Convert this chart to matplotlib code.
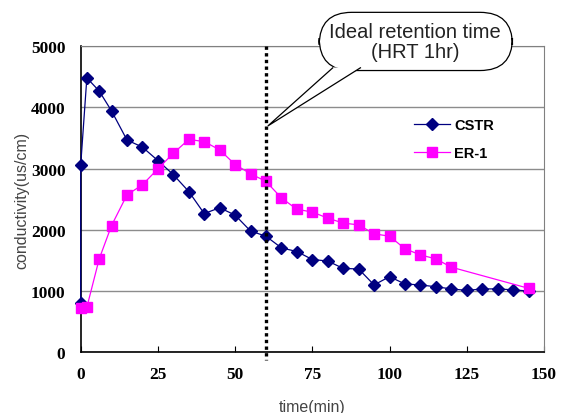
import matplotlib.pyplot as plt
from matplotlib.patches import FancyBboxPatch, Polygon

# conductivity readings over time
cstr_time = [0, 0, 2, 6, 10, 15, 20, 25, 30, 35, 40, 45, 50, 55, 60, 65, 70, 75,
             80, 85, 90, 95, 100, 105, 110, 115, 120, 125, 130, 135, 140, 145]
cstr_cond = [800, 3050, 4480, 4265, 3940, 3465, 3350, 3130, 2900, 2625, 2265, 2360,
             2240, 1980, 1895, 1705, 1645, 1515, 1490, 1370, 1360, 1100, 1235, 1115,
             1100, 1070, 1035, 1010, 1035, 1035, 1020, 1000]

er1_time = [0, 2, 6, 10, 15, 20, 25, 30, 35, 40, 45, 50, 55, 60, 65, 70, 75, 80,
            85, 90, 95, 100, 105, 110, 115, 120, 145]
er1_cond = [720, 735, 1525, 2070, 2570, 2735, 2995, 3250, 3475, 3440, 3305, 3065,
            2915, 2790, 2520, 2335, 2290, 2190, 2110, 2080, 1935, 1895, 1690, 1590,
            1525, 1390, 1045]

hrt_time = 60
x_ticks = [0, 25, 50, 75, 100, 125, 150]
y_ticks = [0, 1000, 2000, 3000, 4000, 5000]

fig = plt.figure(figsize=(5.61, 4.14), dpi=100)
ax = fig.add_axes([0.1438, 0.1466, 0.8258, 0.7398])

ax.grid(axis='y', color='#8c8c8c', linewidth=1.0)
ax.set_axisbelow(True)

ax.plot(cstr_time, cstr_cond, color='#000080', linewidth=0.9, marker='D',
        markersize=6, label='CSTR', zorder=3, clip_on=False)
ax.plot(er1_time, er1_cond, color='#ff00ff', linewidth=0.9, marker='s',
        markersize=7.5, label='ER-1', zorder=4, clip_on=False)

# dotted marker for the ideal retention time
ax.plot([hrt_time, hrt_time], [5000, -120], color='black', linewidth=2.4,
        linestyle=(0, (1, 1)), zorder=5, clip_on=False)

ax.set_xlim(0, 150)
ax.set_ylim(0, 5000)
ax.set_xticks(x_ticks)
ax.set_yticks(y_ticks)

tick_font = dict(family='Liberation Serif', weight='bold', size=12.5)
ax.set_xticklabels([str(v) for v in x_ticks], fontdict=tick_font)
ax.set_yticklabels([str(v) for v in y_ticks], fontdict=tick_font)
ax.tick_params(axis='x', direction='in', length=4, pad=10, color='black')
ax.tick_params(axis='y', direction='in', length=0, pad=11)

for side in ['top', 'right']:
    ax.spines[side].set_color('#808080')
for side in ['left', 'bottom']:
    ax.spines[side].set_color('black')
    ax.spines[side].set_linewidth(1.2)

ax.set_xlabel('time(min)', family='Liberation Sans', size=11.5, color='#444444',
              labelpad=12)
ax.set_ylabel('conductivity(us/cm)', family='Liberation Sans', size=11.5,
              color='#444444', labelpad=1)

ax.legend(loc='center left', bbox_to_anchor=(0.703, 0.696), frameon=False,
          prop=dict(family='Liberation Sans', weight='bold', size=10.5),
          handlelength=2.5, handletextpad=0.3, labelspacing=1.0, borderpad=0)

# speech-bubble callout
box = FancyBboxPatch((0.515, 0.92), 0.417, 0.19,
                     boxstyle='round,pad=0,rounding_size=0.07',
                     transform=ax.transAxes, facecolor='white', edgecolor='black',
                     linewidth=0.9, clip_on=False, zorder=6,
                     mutation_aspect=463 / 306)
ax.add_patch(box)
pointer = Polygon([(0.545, 0.93), (0.404, 0.739), (0.605, 0.93)], closed=False,
                  transform=ax.transAxes, facecolor='white', edgecolor='black',
                  linewidth=0.9, clip_on=False, zorder=7)
ax.add_patch(pointer)
ax.text(0.722, 1.015, 'Ideal retention time\n(HRT 1hr)', transform=ax.transAxes,
        ha='center', va='center', family='Liberation Sans', size=14.5,
        color='#222222', linespacing=1.05, zorder=8)

fig.savefig('out.png', dpi=100)
